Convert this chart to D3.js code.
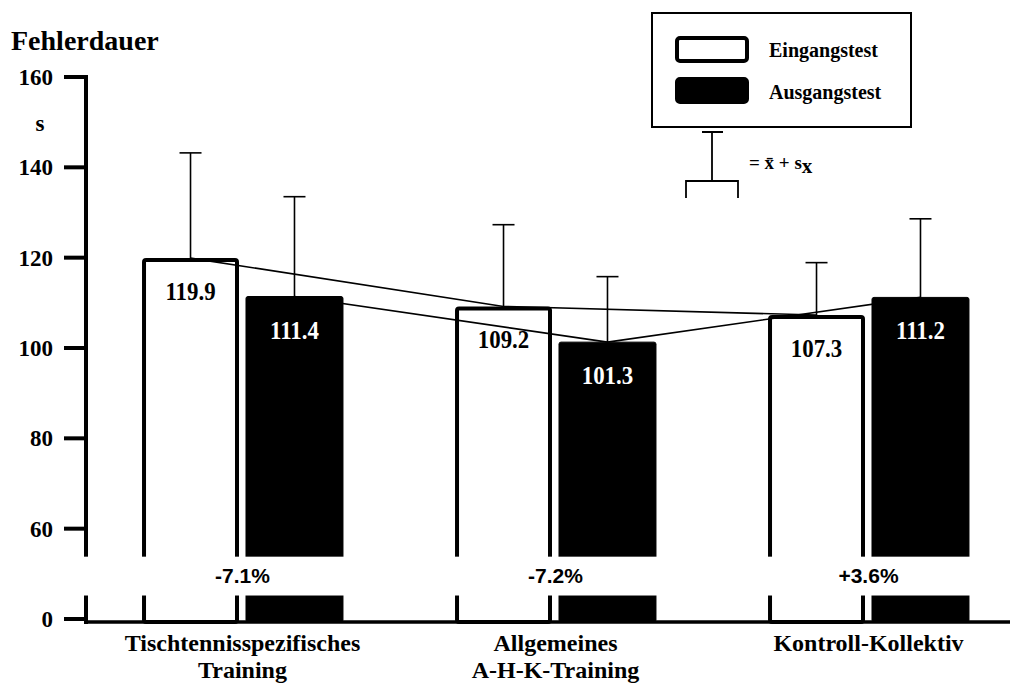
<!DOCTYPE html>
<html>
<head>
<meta charset="utf-8">
<script src="https://cdn.jsdelivr.net/npm/d3@7"></script>
<style>
  body { margin: 0; background: #fff; }
  svg { display: block; }
  text { font-family: "Liberation Serif", "Times New Roman", serif; font-weight: bold; fill: #000; }
  .pct { font-family: "Liberation Sans", Arial, sans-serif; }
</style>
</head>
<body>
<svg id="chart" width="1010" height="686"></svg>
<script>
// data
const groups = ["Tischtennisspezifisches\nTraining", "Allgemeines\nA-H-K-Training", "Kontroll-Kollektiv"];
const series = ["Eingangstest", "Ausgangstest"];
const eingang = [119.9, 109.2, 107.3];
const ausgang = [111.4, 101.3, 111.2];
const eingangSd = [23.3, 18.1, 11.6];
const ausgangSd = [22.1, 14.5, 17.4];
const changes = ["-7.1%", "-7.2%", "+3.6%"];
const yTicks = [0, 60, 80, 100, 120, 140, 160];

// broken axis: "0" sits where 40 would be, the band between breakLo and breakHi is cut out
const zeroAt = 40, breakLo = 45.2, breakHi = 53.8;

const svg = d3.select("#chart");
const axisX = 86;

const y = d3.scaleLinear().domain([zeroAt, 160]).range([619, 77]);
const yPos = v => v === 0 ? y(zeroAt) : y(v);
const base = y(zeroAt) + 3;

const x = d3.scaleBand().domain(groups).range([86, 1025]).paddingInner(0.358).paddingOuter(0.179);
const xs = d3.scaleBand().domain(series).range([0, x.bandwidth()]).paddingInner(7 / 104);

const rows = groups.map((g, i) => [
  { g, s: series[0], v: eingang[i], sd: eingangSd[i] },
  { g, s: series[1], v: ausgang[i], sd: ausgangSd[i] }
]);
const flat = rows.flat();
const cx = d => x(d.g) + xs(d.s) + xs.bandwidth() / 2;

// bars
svg.append("g").selectAll("rect")
  .data(flat)
  .join("rect")
    .attr("x", d => x(d.g) + xs(d.s) + (d.s === series[0] ? 2 : 0))
    .attr("y", d => y(d.v) + (d.s === series[0] ? 2 : 0))
    .attr("width", d => xs.bandwidth() - (d.s === series[0] ? 4 : 0))
    .attr("height", d => base - y(d.v) - (d.s === series[0] ? 2 : 0))
    .attr("rx", 2)
    .attr("fill", d => d.s === series[0] ? "#fff" : "#000")
    .attr("stroke", "#000")
    .attr("stroke-width", d => d.s === series[0] ? 4 : 1);

// error bars
const err = svg.append("g").attr("stroke", "#000").attr("stroke-width", 1.6);
err.selectAll("line.v")
  .data(flat)
  .join("line")
    .attr("class", "v")
    .attr("x1", cx).attr("x2", cx)
    .attr("y1", d => y(d.v)).attr("y2", d => y(d.v + d.sd));
err.selectAll("line.c")
  .data(flat)
  .join("line")
    .attr("class", "c")
    .attr("x1", d => cx(d) - 11).attr("x2", d => cx(d) + 11)
    .attr("y1", d => y(d.v + d.sd)).attr("y2", d => y(d.v + d.sd));

// connecting lines
const line = d3.line().x(cx).y(d => y(d.v));
series.forEach((s, k) => {
  svg.append("path")
    .datum(rows.map(r => r[k]))
    .attr("d", line)
    .attr("fill", "none")
    .attr("stroke", "#000")
    .attr("stroke-width", 1.6);
});

// value labels (narrow, tall type like the original)
svg.append("g").selectAll("text")
  .data(flat)
  .join("text")
    .attr("transform", d => `translate(${cx(d)},${y(d.v) + 42}) scale(0.88,1)`)
    .attr("text-anchor", "middle")
    .style("font-size", "26px")
    .style("fill", d => d.s === series[0] ? "#000" : "#fff")
    .text(d => d.v.toFixed(1));

// y axis
svg.append("line")
  .attr("x1", axisX).attr("x2", axisX)
  .attr("y1", y(160) - 2).attr("y2", base + 2)
  .attr("stroke", "#000").attr("stroke-width", 4);
svg.append("line")
  .attr("x1", axisX).attr("x2", 1010)
  .attr("y1", base).attr("y2", base)
  .attr("stroke", "#000").attr("stroke-width", 3.5);

// axis break band
svg.append("rect")
  .attr("x", 60).attr("width", 960)
  .attr("y", y(breakHi)).attr("height", y(breakLo) - y(breakHi))
  .attr("fill", "#fff");

const ticks = svg.append("g");
ticks.selectAll("line")
  .data(yTicks)
  .join("line")
    .attr("x1", 64).attr("x2", axisX)
    .attr("y1", yPos).attr("y2", yPos)
    .attr("stroke", "#000").attr("stroke-width", 4);
ticks.selectAll("text")
  .data(yTicks)
  .join("text")
    .attr("x", 53)
    .attr("y", yPos)
    .attr("dy", "0.35em")
    .attr("text-anchor", "end")
    .style("font-size", "23px")
    .text(d => d);

svg.append("text").attr("x", 40).attr("y", 123).attr("dy", "0.35em")
  .attr("text-anchor", "middle").style("font-size", "23px").text("s");
svg.append("text").attr("x", 11).attr("y", 50)
  .style("font-size", "28px").text("Fehlerdauer");

// percent changes in the break
svg.append("g").selectAll("text")
  .data(changes)
  .join("text")
    .attr("class", "pct")
    .attr("x", (d, i) => x(groups[i]) + x.bandwidth() / 2)
    .attr("y", (y(breakHi) + y(breakLo)) / 2)
    .attr("dy", "0.35em")
    .attr("text-anchor", "middle")
    .style("font-size", "21px")
    .text(d => d);

// category labels, one text per line
const cat = svg.append("g").selectAll("g")
  .data(groups)
  .join("g")
    .attr("transform", d => `translate(${x(d) + x.bandwidth() / 2},651)`);
cat.selectAll("text")
  .data(d => d.split("\n"))
  .join("text")
    .attr("y", (d, i) => i * 27)
    .attr("text-anchor", "middle")
    .style("font-size", "24px")
    .text(d => d);

// legend
const lg = svg.append("g");
lg.append("rect").attr("x", 652).attr("y", 13).attr("width", 259).attr("height", 114)
  .attr("fill", "#fff").attr("stroke", "#000").attr("stroke-width", 2);
series.forEach((s, i) => {
  lg.append("rect")
    .attr("x", 677).attr("y", 38 + i * 41).attr("width", 70).attr("height", 23)
    .attr("rx", 3)
    .attr("fill", i ? "#000" : "#fff")
    .attr("stroke", "#000").attr("stroke-width", 4);
  lg.append("text").attr("x", 769).attr("y", 50 + i * 42).attr("dy", "0.35em")
    .style("font-size", "20px").text(s);
});
lg.append("path")
  .attr("d", "M702,132H723M712,132V181M686,198V181H738V198")
  .attr("fill", "none").attr("stroke", "#000").attr("stroke-width", 1.8);
const f = lg.append("text").attr("x", 749).attr("y", 169).style("font-size", "19px");
f.append("tspan").text("= x\u0304 + s");
f.append("tspan").attr("dy", 4).style("font-size", "21px").text("x");
</script>
</body>
</html>
